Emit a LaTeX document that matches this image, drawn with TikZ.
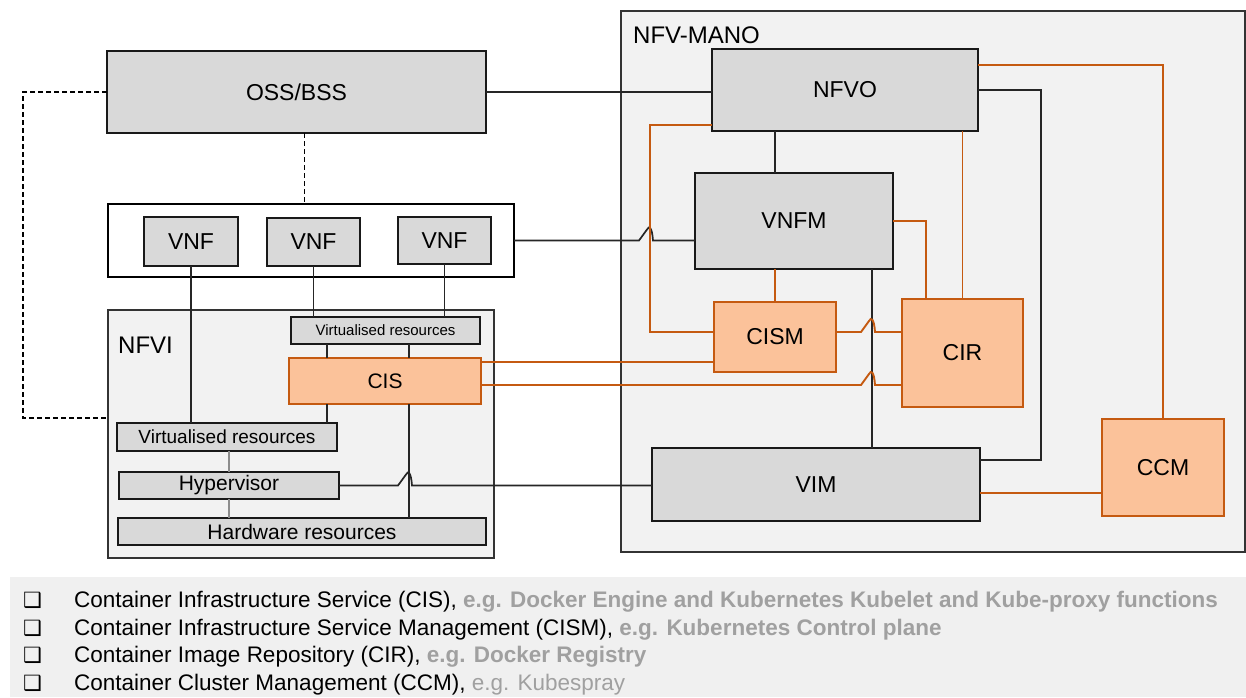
\documentclass[tikz,border=0pt]{standalone}
\usepackage{fontspec}
\setmainfont{Liberation Sans}
\newfontfamily\symfont{DejaVu Sans}
\usetikzlibrary{calc}
\definecolor{boxgray}{HTML}{D9D9D9}
\definecolor{contgray}{HTML}{F2F2F2}
\definecolor{orfill}{HTML}{FBC29A}
\definecolor{orline}{HTML}{C55A11}
\definecolor{leggray}{HTML}{A0A0A0}
\definecolor{legband}{HTML}{F0F0F0}
\newcommand{\fs}[1]{\fontsize{#1}{#1}\selectfont}
\tikzset{
  base/.style={anchor=north west, inner sep=0pt, outer sep=0pt, align=center},
  gbox/.style={base, draw=black!90, line width=2pt, fill=boxgray, font=\fs{23}},
  obox/.style={base, draw=orline, line width=2pt, fill=orfill, font=\fs{23}},
  cont/.style={base, draw=black!80, line width=1.8pt, fill=contgray},
  wbox/.style={base, draw=black, line width=2pt, fill=white},
  blk/.style={draw=black!85, line width=1.7pt},
  thin/.style={draw=black!45, line width=1.1pt},
  orl/.style={draw=orline, line width=1.9pt},
  dsh/.style={draw=black, line width=1.7pt, dash pattern=on 5pt off 3pt},
  lbl/.style={anchor=base west, inner sep=0pt, font=\fs{24}},
  leg/.style={anchor=base west, inner sep=0pt, font=\fs{22.5}},
}
\begin{document}
\begin{tikzpicture}[x=1pt, y=-1pt]
\useasboundingbox (0,0) rectangle (1246,697);
% legend band
\fill[legband] (10,577) rectangle (1246,697);
% containers
\node[cont, minimum width=624, minimum height=541] (mano) at (621,11) {};
\node[lbl] (manol) at (633,43) {NFV-MANO};
\node[cont, minimum width=386, minimum height=248] (nfvi) at (108,310) {};
\node[lbl] (nfvil) at (118,353) {NFVI};
\node[wbox, minimum width=406, minimum height=73] (vnfc) at (108,204) {};
% top-left boxes
\node[gbox, minimum width=379, minimum height=82] (oss) at (107,51) {OSS/BSS};
\node[gbox, minimum width=94, minimum height=49] (vnf1) at (144,217) {VNF};
\node[gbox, minimum width=93, minimum height=48] (vnf2) at (267,218) {VNF};
\node[gbox, minimum width=93, minimum height=47] (vnf3) at (398,217) {VNF};
% NFVI boxes
\node[gbox, line width=1.7pt, minimum width=189, minimum height=27, font=\fs{15}] (vr1) at (291,317) {Virtualised resources};
\node[obox, minimum width=192, minimum height=46, font=\fs{21}] (cis) at (289,358) {CIS};
\node[gbox, line width=1.7pt, minimum width=220, minimum height=28, font=\fs{19}] (vr2) at (117,423) {Virtualised resources};
\node[gbox, line width=1.7pt, minimum width=220, minimum height=27, font=\fs{21}] (hyp) at (119,472) {Hypervisor};
\node[gbox, line width=1.7pt, minimum width=368, minimum height=27, font=\fs{21}] (hw) at (118,518) {Hardware resources};
% MANO boxes
\node[gbox, minimum width=266, minimum height=82] (nfvo) at (712,49) {NFVO};
\node[gbox, minimum width=198, minimum height=96] (vnfm) at (695,173) {VNFM};
\node[obox, minimum width=122, minimum height=70] (cism) at (714,302) {CISM};
\node[obox, minimum width=121, minimum height=108] (cir) at (902,299) {CIR};
\node[obox, minimum width=122, minimum height=97] (ccm) at (1102,419) {CCM};
\node[gbox, minimum width=328, minimum height=73] (vim) at (652,448) {VIM};

% helper coordinates
\coordinate (x775) at (775,0);
\coordinate (x872) at (872,0);
\coordinate (x926) at (926,0);
\coordinate (x327) at (327,0);
\coordinate (x409) at (409,0);
\coordinate (x229) at (229,0);
\coordinate (y65) at (0,65);
\coordinate (y362) at (0,362);
\coordinate (y493) at (0,493);
\coordinate (dtop) at (23,92);
\coordinate (dbot) at (23,418);
\coordinate (o1) at (650,125);
\coordinate (o2) at (650,332);
\coordinate (k1) at (1041,460);
\coordinate (j1) at (650,240.5);
\coordinate (j2) at (872,332);
\coordinate (j3) at (872,385);
\coordinate (j4) at (409,485.5);

% dashed connectors
\draw[dsh] (oss.west) -- (dtop) -- (dbot) -- (dbot -| nfvi.west);
\draw[dsh] ([xshift=8pt]oss.south) -- ([xshift=8pt]oss.south |- vnfc.north);

% black connectors
\draw[blk] (oss.east) -- (nfvo.west |- oss.east);
\draw[blk] (nfvo.south -| x775) -- (vnfm.north -| x775);
\draw[blk] (vnfm.south -| x872) -- (vim.north -| x872);
\draw[blk] (nfvo.east) -| (k1) -- (k1 -| vim.east);
\draw[blk] (vnfc.east) -- ([xshift=-11pt]j1) -- ([xshift=-3pt,yshift=11pt]j1)
   .. controls ([xshift=-1pt,yshift=15pt]j1) and ([xshift=2pt,yshift=14pt]j1) .. ([xshift=3pt]j1)
   -- (vnfm.west |- j1);
\draw[blk] (hyp.east) -- ([xshift=-11pt]j4) -- ([xshift=-3pt,yshift=11pt]j4)
   .. controls ([xshift=-1pt,yshift=15pt]j4) and ([xshift=2pt,yshift=14pt]j4) .. ([xshift=3pt]j4)
   -- (vim.west |- j4);

% NFVI internal
\draw[blk] (vnf1.south) -- (vr2.north -| vnf1.south);
\draw[blk] (vnf2.south) -- (vr1.north -| vnf2.south);
\draw[blk] (vnf3.south) -- (vr1.north -| vnf3.south);
\draw[blk] (vr1.south -| x327) -- (cis.north -| x327);
\draw[blk] (vr1.south -| x409) -- (cis.north -| x409);
\draw[blk] (cis.south -| x327) -- (vr2.north -| x327);
\draw[blk] (cis.south -| x409) -- (hw.north -| x409);
\draw[thin] (vr2.south -| x229) -- (hyp.north -| x229);
\draw[thin] (hyp.south -| x229) -- (hw.north -| x229);

% orange connectors
\draw[orl] (o1 -| nfvo.west) -- (o1) -- (o2) -- (o2 -| cism.west);
\draw[orl] (nfvo.east |- y65) -| (ccm.north);
\draw[orl] (nfvo.south -| cir.north) -- (cir.north);
\draw[orl] (vnfm.east) -| (cir.north -| x926);
\draw[orl, line width=2.6pt] (vnfm.south -| cism.north) -- (cism.north);
\draw[orl] (cis.east |- y362) -- (cism.west |- y362);
\draw[orl] (vim.east |- y493) -- (ccm.west |- y493);
\draw[orl] (cism.east |- j2) -- ([xshift=-11pt]j2) -- ([xshift=-3pt,yshift=11pt]j2)
   .. controls ([xshift=-1pt,yshift=15pt]j2) and ([xshift=2pt,yshift=14pt]j2) .. ([xshift=3pt]j2)
   -- (cir.west |- j2);
\draw[orl] (cis.east |- j3) -- ([xshift=-11pt]j3) -- ([xshift=-3pt,yshift=11pt]j3)
   .. controls ([xshift=-1pt,yshift=15pt]j3) and ([xshift=2pt,yshift=14pt]j3) .. ([xshift=3pt]j3)
   -- (cir.west |- j3);

% legend
\foreach \yy/\nm in {607/b1,635/b2,662/b3,690/b4}{
  \node[anchor=base west, inner sep=0pt, font=\symfont\fs{21}] (\nm) at (23,\yy) {❑};
}
\node[leg] (l1) at (74,607) {Container Infrastructure Service (CIS), \textcolor{leggray}{\bfseries e.g. Docker Engine and Kubernetes Kubelet and Kube-proxy functions}};
\node[leg] (l2) at (74,635) {Container Infrastructure Service Management (CISM), \textcolor{leggray}{\bfseries e.g. Kubernetes Control plane}};
\node[leg] (l3) at (74,662) {Container Image Repository (CIR), \textcolor{leggray}{\bfseries e.g. Docker Registry}};
\node[leg] (l4) at (74,690) {Container Cluster Management (CCM), \textcolor{leggray}{e.g. Kubespray}};
\end{tikzpicture}
\end{document}
